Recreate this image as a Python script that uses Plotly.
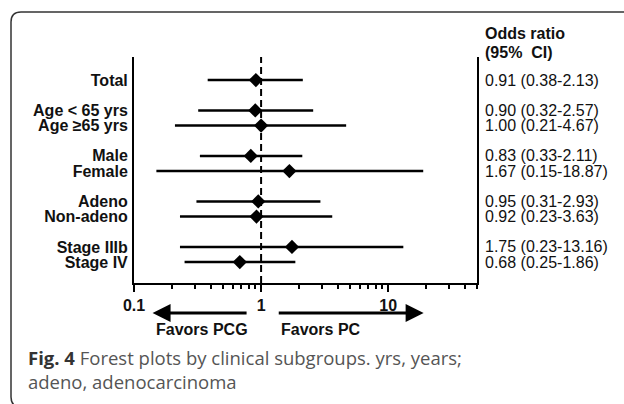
import math
import plotly.graph_objects as go

# ---- data ----
labels = ["Total", "Age < 65 yrs", "Age \u226565 yrs", "Male", "Female",
          "Adeno", "Non-adeno", "Stage IIIb", "Stage IV"]
group = [0, 1, 1, 2, 2, 3, 3, 4, 4]
odds = [0.91, 0.90, 1.00, 0.83, 1.67, 0.95, 0.92, 1.75, 0.68]
ci_low = [0.38, 0.32, 0.21, 0.33, 0.15, 0.31, 0.23, 0.23, 0.25]
ci_high = [2.13, 2.57, 4.67, 2.11, 18.87, 2.93, 3.63, 13.16, 1.86]
major_ticks = [0.1, 1, 10]
major_text = ["0.1", "1", "10"]
minor_ticks = [0.2, 0.3, 0.4, 0.5, 0.6, 0.7, 0.8, 0.9,
               2, 3, 4, 5, 6, 7, 8, 9, 20, 30, 40, 50]

ypos = [i + g for i, g in enumerate(group)]
ci_text = [f"{o:.2f} ({l:.2f}-{h:.2f})" for o, l, h in zip(odds, ci_low, ci_high)]

W, H = 624, 404
ML, MR, MT, MB = 134, 147, 57, 121
PW, PH = W - ML - MR, H - MT - MB

def px(x):
    return (x - ML) / PW

def py(y):
    return (H - MB - y) / PH

ARIAL = "Liberation Sans, Arial, sans-serif"
CAP = "Open Sans, Noto Sans, sans-serif"

fig = go.Figure()
fig.add_trace(go.Scatter(
    x=odds, y=ypos, mode="markers",
    marker=dict(symbol="diamond", size=11, color="black"),
    error_x=dict(type="data", symmetric=False,
                 array=[h - o for h, o in zip(ci_high, odds)],
                 arrayminus=[o - l for o, l in zip(odds, ci_low)],
                 color="black", thickness=2.5, width=0),
    showlegend=False, hoverinfo="skip",
))

# reference dashed line at OR = 1
fig.add_shape(type="line", xref="x", yref="paper", x0=1, x1=1, y0=0, y1=1,
              line=dict(color="black", width=2, dash="7px,4px"), layer="below")

# right-hand CI text
for yv, t in zip(ypos, ci_text):
    fig.add_annotation(xref="paper", yref="y", x=1, y=yv, xshift=6,
                       text=t, showarrow=False, xanchor="left", yanchor="middle",
                       font=dict(family=ARIAL, size=16, color="#111"))

fig.add_annotation(xref="paper", yref="paper", x=1, y=py(34), xshift=6,
                   text="<b>Odds ratio</b>", showarrow=False, xanchor="left",
                   yanchor="middle", font=dict(family=ARIAL, size=16, color="#111"))
fig.add_annotation(xref="paper", yref="paper", x=1, y=py(53), xshift=6,
                   text="<b>(95%  CI)</b>", showarrow=False, xanchor="left",
                   yanchor="middle", font=dict(family=ARIAL, size=16, color="#111"))

# favour arrows (annotation positions on a log axis are given in log10 units)
for tip, tail in [(0.14, 0.79), (19, 1.34)]:
    fig.add_annotation(xref="x", yref="paper", axref="x", ayref="pixel",
                       x=math.log10(tip), y=py(313), ax=math.log10(tail), ay=0,
                       text="", showarrow=True, arrowhead=2, arrowsize=1.2,
                       arrowwidth=3, arrowcolor="black")
fig.add_annotation(xref="paper", yref="paper", x=px(202), y=py(329),
                   xanchor="center", yanchor="middle",
                   text="<b>Favors PCG</b>", showarrow=False,
                   font=dict(family=ARIAL, size=16, color="#111"))
fig.add_annotation(xref="paper", yref="paper", x=px(321), y=py(329),
                   xanchor="center", yanchor="middle",
                   text="<b>Favors PC</b>", showarrow=False,
                   font=dict(family=ARIAL, size=16, color="#111"))

# caption (two lines in one text block)
fig.add_annotation(xref="paper", yref="paper", x=px(26), y=py(369),
                   xanchor="left", yanchor="middle", align="left",
                   text="<b>Fig. 4</b> <span style='color:#555'>Forest plots by clinical subgroups. yrs, years;"
                        "<br>adeno, adenocarcinoma</span>",
                   showarrow=False, font=dict(family=CAP, size=18.5, color="#333"))

# rounded outer frame (runs off the picture on the right and bottom)
L, T, R, B, r = 11, 12, 640, 407, 10
path = (f"M {px(R)},{py(T)} L {px(L + r)},{py(T)} Q {px(L)},{py(T)} {px(L)},{py(T + r)} "
        f"L {px(L)},{py(B - r)} Q {px(L)},{py(B)} {px(L + r)},{py(B)} L {px(R)},{py(B)}")
fig.add_shape(type="path", xref="paper", yref="paper", path=path,
              line=dict(color="#333", width=1.5))

fig.update_xaxes(
    type="log", range=[-1, 1.69897], showline=True, linecolor="black", linewidth=2,
    ticks="outside", ticklen=7, tickwidth=2, tickcolor="black",
    tickmode="array", tickvals=major_ticks, ticktext=major_text,
    tickfont=dict(family=ARIAL, size=16, color="#111", weight="bold"),
    minor=dict(tickmode="array", tickvals=minor_ticks, ticks="outside",
               ticklen=4, tickwidth=2, tickcolor="black", showgrid=False),
    showgrid=False, zeroline=False,
)
fig.update_yaxes(
    range=[13.38, -1.52], showline=True, mirror=True, linecolor="black", linewidth=2,
    ticks="", tickmode="array", tickvals=ypos, ticktext=labels,
    tickfont=dict(family=ARIAL, size=16, color="#111", weight="bold"),
    ticklabelstandoff=1, showgrid=False, zeroline=False,
)
fig.update_layout(
    width=W, height=H, margin=dict(l=ML, r=MR, t=MT, b=MB),
    paper_bgcolor="white", plot_bgcolor="white",
)
fig.write_html("out.html")
